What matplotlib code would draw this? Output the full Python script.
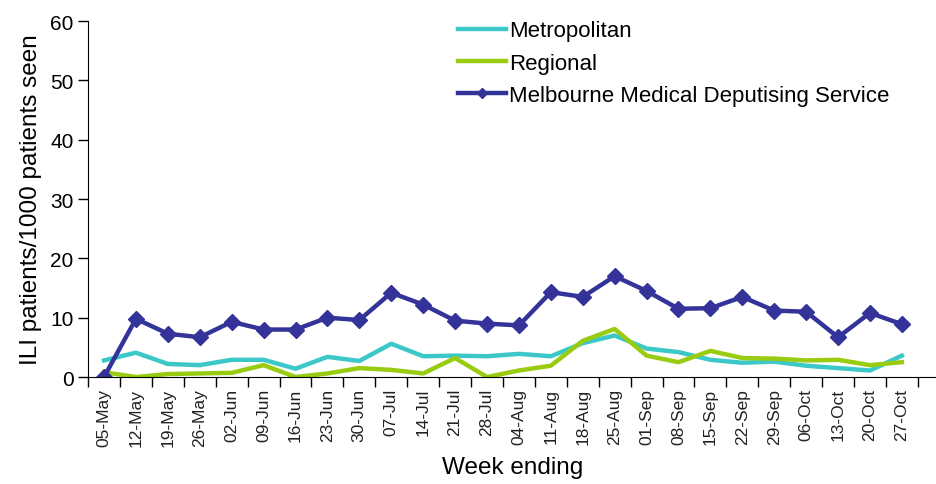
import matplotlib.pyplot as plt
import numpy as np

plt.rcParams['font.family'] = ['Liberation Sans', 'DejaVu Sans']

weeks = ["05-May", "12-May", "19-May", "26-May", "02-Jun", "09-Jun", "16-Jun",
         "23-Jun", "30-Jun", "07-Jul", "14-Jul", "21-Jul", "28-Jul", "04-Aug",
         "11-Aug", "18-Aug", "25-Aug", "01-Sep", "08-Sep", "15-Sep", "22-Sep",
         "29-Sep", "06-Oct", "13-Oct", "20-Oct", "27-Oct"]

metropolitan = [2.8, 4.1, 2.2, 2.0, 2.9, 2.9, 1.4, 3.4, 2.7, 5.6, 3.5, 3.6, 3.5,
                3.9, 3.5, 5.7, 7.0, 4.8, 4.2, 2.9, 2.4, 2.6, 1.9, 1.5, 1.1, 3.6]
regional = [0.8, 0.0, 0.5, 0.6, 0.7, 2.0, 0.0, 0.6, 1.5, 1.2, 0.6, 3.2, 0.0,
            1.1, 1.9, 6.1, 8.1, 3.6, 2.5, 4.4, 3.2, 3.1, 2.8, 2.9, 2.0, 2.5]
mmds = [0.0, 9.8, 7.3, 6.7, 9.3, 8.0, 8.0, 10.0, 9.6, 14.2, 12.2, 9.5, 9.0,
        8.7, 14.3, 13.5, 17.0, 14.5, 11.5, 11.6, 13.5, 11.2, 11.0, 6.7, 10.8, 8.9]

x = np.arange(len(weeks))

fig = plt.figure(figsize=(9.37, 4.85), dpi=100)
ax = fig.add_axes([0.094, 0.2206, 0.906, 0.734])

ax.plot(x, metropolitan, color="#3CC8C8", lw=3.2, label="Metropolitan")
ax.plot(x, regional, color="#99CC11", lw=3.2, label="Regional")
ax.plot(x, mmds, color="#333399", lw=3.2, marker="D", ms=8,
        label="Melbourne Medical Deputising Service")

ax.set_ylim(0, 60)
ax.set_yticks(range(0, 61, 10))
ax.set_xlim(-0.5, 26.1)
ax.set_xticks(x)
ax.set_xticklabels(weeks, rotation=90, fontsize=12.5, color="#222222")
ax.set_xticks(np.arange(-0.5, len(weeks), 1.0), minor=True)
ax.tick_params(axis="x", which="major", length=0, pad=8)
ax.tick_params(axis="x", which="minor", length=7, direction="out", width=1)
ax.tick_params(axis="y", length=7, direction="out", labelsize=15, width=1)

for s in ["top", "right"]:
    ax.spines[s].set_visible(False)

ax.set_ylabel("ILI patients/1000 patients seen", fontsize=17.5, labelpad=6)
ax.set_xlabel("Week ending", fontsize=17.5, labelpad=7)

ax.legend(loc="upper left", bbox_to_anchor=(0.467, 0.997), bbox_transform=fig.transFigure,
          frameon=False, fontsize=16, handlelength=2.2, handletextpad=0.1,
          labelspacing=0.5, markerscale=0.7)

plt.savefig("out.png", dpi=100)
